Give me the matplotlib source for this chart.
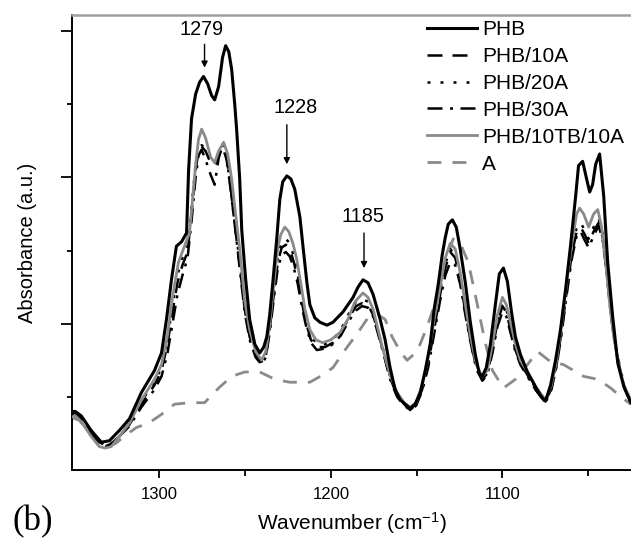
import matplotlib
matplotlib.use("Agg")
import matplotlib.pyplot as plt

plt.rcParams['font.family'] = ['Liberation Sans', 'DejaVu Sans']
plt.rcParams['mathtext.fontset'] = 'custom'
plt.rcParams['mathtext.rm'] = 'Liberation Sans'
plt.rcParams['mathtext.it'] = 'Liberation Sans:italic'

# ---------------- data (wavenumber cm-1, absorbance a.u.) ----------------
phb_x = [1351.5, 1349.1, 1345.6, 1339.8, 1333.9, 1329.2, 1323.4, 1317.5, 1310.5, 1302.9,
         1298.8, 1295.9, 1293.0, 1290.1, 1287.1, 1284.2, 1283.0, 1281.3, 1278.9, 1276.6,
         1274.3, 1271.9, 1269.6, 1267.8, 1265.5, 1263.2, 1261.4, 1259.6, 1257.9, 1256.1,
         1255.0, 1253.2, 1252.0, 1249.7, 1247.4, 1244.4, 1241.5, 1239.2, 1237.4, 1235.7,
         1233.9, 1231.6, 1229.8, 1228.1, 1225.7, 1223.4, 1221.1, 1218.1, 1216.4, 1214.0,
         1212.3, 1209.4, 1206.4, 1202.3, 1198.8, 1193.0, 1187.1, 1184.2, 1181.3, 1178.4,
         1175.4, 1171.3, 1168.4, 1165.5, 1162.6, 1159.6, 1156.7, 1153.8, 1150.9, 1147.9,
         1145.0, 1142.1, 1139.8, 1137.4, 1135.1, 1133.3, 1131.6, 1129.2, 1126.9, 1124.6,
         1121.6, 1118.7, 1115.8, 1113.5, 1111.7, 1109.4, 1107.0, 1104.1, 1101.8, 1099.4,
         1097.1, 1094.7, 1092.4, 1089.5, 1085.4, 1080.7, 1077.8, 1074.9, 1071.9, 1069.0,
         1066.1, 1063.2, 1060.2, 1057.3, 1055.6, 1053.2, 1050.9, 1049.1, 1047.4, 1045.6,
         1043.3, 1040.9, 1038.6, 1035.7, 1032.7, 1029.2, 1025.1]
phb_y = [0.40, 0.40, 0.37, 0.27, 0.19, 0.20, 0.27, 0.35, 0.53, 0.68,
         0.80, 1.03, 1.30, 1.53, 1.56, 1.62, 2.05, 2.40, 2.57, 2.65,
         2.69, 2.64, 2.56, 2.53, 2.62, 2.82, 2.90, 2.86, 2.74, 2.50,
         2.33, 1.99, 1.64, 1.30, 1.03, 0.86, 0.80, 0.84, 0.91, 1.06,
         1.28, 1.58, 1.85, 1.97, 2.01, 1.99, 1.92, 1.73, 1.54, 1.28,
         1.13, 1.04, 1.01, 0.99, 1.01, 1.08, 1.18, 1.25, 1.30, 1.28,
         1.20, 1.03, 0.89, 0.70, 0.55, 0.48, 0.45, 0.42, 0.45, 0.53,
         0.68, 0.86, 1.10, 1.27, 1.47, 1.59, 1.68, 1.71, 1.66, 1.51,
         1.28, 1.01, 0.79, 0.66, 0.64, 0.70, 0.86, 1.13, 1.34, 1.38,
         1.29, 1.08, 0.91, 0.79, 0.67, 0.57, 0.51, 0.47, 0.58, 0.75,
         0.96, 1.23, 1.54, 1.87, 2.08, 2.11, 1.99, 1.90, 1.95, 2.09,
         2.16, 1.87, 1.42, 1.05, 0.73, 0.57, 0.46]

# shared wavenumber grid for the three PHB/xA blends
blend_x = [1351.5, 1349.1, 1345.6, 1339.8, 1335.1, 1331.6, 1328.1, 1323.4, 1317.5, 1310.5,
           1302.9, 1298.8, 1295.3, 1292.4, 1289.5, 1286.6, 1283.6, 1281.3, 1278.9, 1277.2,
           1275.4, 1273.1, 1270.2, 1267.8, 1265.5, 1263.2, 1260.8, 1258.5, 1256.1, 1253.2,
           1250.3, 1247.4, 1243.9, 1240.4, 1238.0, 1235.7, 1233.3, 1231.0, 1228.7, 1226.3,
           1224.0, 1221.6, 1219.3, 1217.0, 1214.6, 1211.7, 1208.2, 1203.5, 1198.8, 1194.2,
           1189.5, 1185.4, 1181.9, 1178.4, 1175.4, 1172.5, 1169.0, 1165.5, 1161.4, 1157.3,
           1153.8, 1150.3, 1146.8, 1143.3, 1139.8, 1136.3, 1133.3, 1130.4, 1127.5, 1124.6,
           1121.6, 1118.7, 1115.2, 1111.7, 1108.8, 1105.8, 1102.9, 1100.0, 1097.7, 1095.3,
           1092.4, 1089.5, 1085.4, 1080.7, 1074.9, 1071.4, 1068.4, 1065.5, 1062.6, 1059.6,
           1056.7, 1054.4, 1052.0, 1049.7, 1046.8, 1043.9, 1041.5, 1039.2, 1036.8, 1034.5,
           1031.6, 1028.7, 1025.1]
phb10a_y = [0.38, 0.39, 0.35, 0.25, 0.18, 0.16, 0.18, 0.23, 0.31, 0.45,
            0.58, 0.68, 0.86, 1.08, 1.28, 1.40, 1.49, 1.75, 2.05, 2.18,
            2.21, 2.18, 2.10, 2.08, 2.14, 2.21, 2.12, 1.92, 1.68, 1.40,
            1.10, 0.91, 0.79, 0.73, 0.78, 0.96, 1.20, 1.42, 1.52, 1.54,
            1.51, 1.42, 1.30, 1.15, 1.01, 0.89, 0.84, 0.84, 0.87, 0.94,
            1.04, 1.12, 1.14, 1.13, 1.06, 0.94, 0.79, 0.63, 0.51, 0.45,
            0.41, 0.45, 0.55, 0.72, 0.96, 1.20, 1.38, 1.49, 1.45, 1.30,
            1.08, 0.89, 0.70, 0.62, 0.66, 0.82, 1.01, 1.12, 1.08, 0.96,
            0.82, 0.73, 0.65, 0.55, 0.46, 0.56, 0.72, 0.95, 1.21, 1.47,
            1.63, 1.66, 1.61, 1.55, 1.63, 1.69, 1.59, 1.36, 1.08, 0.88,
            0.70, 0.56, 0.46]
phb20a_y = [0.39, 0.40, 0.36, 0.26, 0.18, 0.16, 0.17, 0.23, 0.32, 0.47,
            0.60, 0.70, 0.90, 1.12, 1.33, 1.45, 1.53, 1.80, 2.08, 2.20,
            2.22, 2.20, 2.13, 2.11, 2.16, 2.22, 2.13, 1.93, 1.70, 1.42,
            1.12, 0.93, 0.80, 0.74, 0.80, 0.99, 1.24, 1.46, 1.56, 1.58,
            1.55, 1.46, 1.33, 1.18, 1.04, 0.92, 0.86, 0.86, 0.89, 0.96,
            1.07, 1.15, 1.17, 1.15, 1.08, 0.95, 0.80, 0.64, 0.52, 0.45,
            0.42, 0.46, 0.57, 0.74, 0.99, 1.23, 1.41, 1.51, 1.47, 1.32,
            1.10, 0.90, 0.71, 0.63, 0.67, 0.84, 1.03, 1.14, 1.10, 0.98,
            0.83, 0.74, 0.66, 0.56, 0.47, 0.57, 0.73, 0.97, 1.24, 1.50,
            1.66, 1.69, 1.64, 1.58, 1.66, 1.72, 1.62, 1.38, 1.10, 0.89,
            0.71, 0.57, 0.46]
phb30a_y = [0.39, 0.40, 0.36, 0.26, 0.19, 0.17, 0.18, 0.23, 0.30, 0.43,
            0.55, 0.64, 0.80, 1.00, 1.20, 1.33, 1.45, 1.70, 2.00, 2.15,
            2.19, 2.12, 2.02, 1.95, 2.13, 2.23, 2.14, 1.93, 1.68, 1.38,
            1.08, 0.89, 0.77, 0.72, 0.77, 0.94, 1.17, 1.38, 1.47, 1.49,
            1.46, 1.38, 1.27, 1.12, 0.99, 0.87, 0.82, 0.83, 0.86, 0.92,
            1.02, 1.09, 1.12, 1.11, 1.05, 0.93, 0.78, 0.62, 0.50, 0.44,
            0.41, 0.44, 0.54, 0.70, 0.93, 1.16, 1.33, 1.42, 1.40, 1.27,
            1.06, 0.88, 0.69, 0.61, 0.65, 0.80, 0.98, 1.08, 1.05, 0.94,
            0.81, 0.72, 0.64, 0.55, 0.46, 0.55, 0.71, 0.93, 1.19, 1.44,
            1.60, 1.63, 1.57, 1.52, 1.60, 1.67, 1.57, 1.35, 1.07, 0.87,
            0.69, 0.56, 0.46]

tb_x = [1351.5, 1349.1, 1345.6, 1339.8, 1335.1, 1331.6, 1328.1, 1323.4, 1317.5, 1310.5,
        1302.9, 1298.8, 1295.3, 1292.4, 1288.9, 1285.4, 1282.5, 1280.7, 1278.9, 1277.2,
        1275.4, 1273.1, 1270.2, 1267.8, 1265.5, 1262.6, 1260.2, 1257.9, 1255.6, 1253.2,
        1250.3, 1247.4, 1243.9, 1240.4, 1238.0, 1235.7, 1233.3, 1231.0, 1229.2, 1226.9,
        1224.6, 1222.2, 1219.9, 1217.5, 1215.2, 1212.3, 1208.8, 1204.7, 1200.0, 1194.7,
        1190.1, 1186.0, 1181.3, 1178.4, 1175.4, 1172.5, 1169.6, 1165.5, 1161.4, 1157.3,
        1153.8, 1150.3, 1146.8, 1143.3, 1139.8, 1136.3, 1133.3, 1130.4, 1127.5, 1124.6,
        1121.6, 1118.7, 1115.2, 1111.7, 1108.8, 1105.8, 1102.9, 1100.0, 1097.7, 1095.3,
        1092.4, 1089.5, 1085.4, 1080.7, 1074.9, 1071.4, 1068.4, 1065.5, 1062.6, 1059.6,
        1056.7, 1055.0, 1052.6, 1049.7, 1046.8, 1044.4, 1042.1, 1039.8, 1037.4, 1035.1,
        1032.2, 1029.2, 1025.1]
tb_y = [0.36, 0.37, 0.33, 0.23, 0.16, 0.15, 0.16, 0.23, 0.32, 0.48,
        0.62, 0.72, 0.92, 1.18, 1.42, 1.53, 1.62, 1.85, 2.09, 2.26,
        2.33, 2.27, 2.14, 2.10, 2.18, 2.24, 2.16, 1.99, 1.75, 1.51,
        1.16, 0.96, 0.81, 0.75, 0.81, 0.99, 1.27, 1.52, 1.61, 1.66,
        1.63, 1.55, 1.44, 1.27, 1.10, 0.96, 0.89, 0.87, 0.89, 0.94,
        1.03, 1.15, 1.21, 1.18, 1.10, 0.96, 0.82, 0.65, 0.53, 0.46,
        0.43, 0.46, 0.58, 0.77, 1.03, 1.25, 1.45, 1.55, 1.51, 1.35,
        1.13, 0.92, 0.72, 0.64, 0.68, 0.86, 1.06, 1.18, 1.13, 1.01,
        0.86, 0.75, 0.67, 0.57, 0.48, 0.58, 0.75, 0.99, 1.27, 1.54,
        1.75, 1.79, 1.75, 1.66, 1.75, 1.78, 1.66, 1.42, 1.13, 0.91,
        0.72, 0.58, 0.48]

a_x = [1351.5, 1346.8, 1340.9, 1335.1, 1330.4, 1325.7, 1320.5, 1313.5, 1306.4, 1298.8,
       1291.2, 1282.5, 1273.7, 1265.5, 1257.9, 1250.3, 1241.5, 1232.7, 1224.0, 1212.3,
       1204.7, 1198.8, 1191.8, 1184.2, 1178.4, 1172.5, 1168.4, 1164.3, 1159.6, 1155.6,
       1149.7, 1143.9, 1138.0, 1132.2, 1128.7, 1124.6, 1119.9, 1114.6, 1110.0, 1105.8,
       1099.4, 1092.4, 1085.4, 1079.5, 1071.9, 1064.3, 1052.6, 1044.4, 1036.8, 1031.0,
       1025.1]
a_y = [0.36, 0.34, 0.26, 0.18, 0.16, 0.18, 0.23, 0.29, 0.32, 0.38,
       0.45, 0.46, 0.46, 0.56, 0.64, 0.67, 0.67, 0.62, 0.60, 0.60,
       0.65, 0.70, 0.82, 0.94, 1.04, 1.06, 1.03, 0.91, 0.81, 0.75,
       0.81, 0.98, 1.18, 1.46, 1.58, 1.55, 1.42, 1.13, 0.87, 0.68,
       0.56, 0.62, 0.72, 0.81, 0.74, 0.72, 0.64, 0.62, 0.56, 0.50,
       0.45]

series_labels = ["PHB", "PHB/10A", "PHB/20A", "PHB/30A", "PHB/10TB/10A", "A"]

peak_labels = ["1279", "1228", "1185"]
peak_arrow_x = [1273.7, 1225.7, 1180.7]
peak_arrow_tail = [2.91, 2.36, 1.62]
peak_arrow_head = [2.75, 2.09, 1.38]
peak_text_x = [1275.4, 1220.5, 1181.3]
peak_text_y = [3.01, 2.48, 1.73]

x_major = [1300, 1200, 1100]
x_minor = [1250, 1150, 1050]
y_major = [1, 2, 3]
y_minor = [0.5, 1.5, 2.5]

# ---------------- figure ----------------
fig = plt.figure(figsize=(6.31, 5.41), dpi=100)
ax = fig.add_axes([72 / 631, 71 / 541, 559 / 631, 455 / 541])

grey = "#8a8a8a"
ax.plot(a_x, a_y, color=grey, lw=2.0, dashes=(5, 4), label=series_labels[5], zorder=1)
ax.plot(blend_x, phb30a_y, color="black", lw=1.8, dashes=(6, 3, 1.2, 3), label=series_labels[3], zorder=2)
ax.plot(blend_x, phb20a_y, color="black", lw=1.8, dashes=(1.2, 4), label=series_labels[2], zorder=2)
ax.plot(blend_x, phb10a_y, color="black", lw=1.8, dashes=(6, 4), label=series_labels[1], zorder=2)
ax.plot(tb_x, tb_y, color=grey, lw=2.0, label=series_labels[4], zorder=3)
ax.plot(phb_x, phb_y, color="black", lw=2.2, label=series_labels[0], zorder=4)

ax.set_xlim(1351, 1025)
ax.set_ylim(0, 3.11)

ax.set_xticks(x_major)
ax.set_xticklabels([str(v) for v in x_major])
ax.set_xticks(x_minor, minor=True)
ax.set_yticks(y_major)
ax.set_yticklabels([])
ax.set_yticks(y_minor, minor=True)
ax.tick_params(axis='x', which='major', direction='out', length=6, width=1.3, labelsize=12, pad=6)
ax.tick_params(axis='x', which='minor', direction='out', length=4.5, width=1.3)
ax.tick_params(axis='y', which='major', direction='out', length=8, width=1.3)
ax.tick_params(axis='y', which='minor', direction='out', length=3.5, width=1.3)

for s in ['left', 'bottom']:
    ax.spines[s].set_linewidth(1.4)
    ax.spines[s].set_color('black')
ax.spines['top'].set_color('#a0a0a0')
ax.spines['top'].set_linewidth(1.8)
ax.spines['right'].set_visible(False)

ax.set_xlabel(r'Wavenumber (cm$^{\mathregular{-1}}$)', fontsize=15, labelpad=6)
ax.set_ylabel('Absorbance (a.u.)', fontsize=14.5, labelpad=14)

for lab, ax_x, t0, t1, tx, ty in zip(peak_labels, peak_arrow_x, peak_arrow_tail,
                                     peak_arrow_head, peak_text_x, peak_text_y):
    ax.annotate('', xy=(ax_x, t1), xytext=(ax_x, t0),
                arrowprops=dict(arrowstyle='-|>', color='black', lw=1.0,
                                mutation_scale=9, shrinkA=0, shrinkB=0))
    ax.text(tx, ty, lab, fontsize=14.3, ha='center', va='center')

handles, labels = ax.get_legend_handles_labels()
order = [labels.index(l) for l in series_labels]
leg = fig.legend([handles[i] for i in order], [labels[i] for i in order],
                 loc='upper left', bbox_to_anchor=(427 / 631, 1 - 20 / 541),
                 frameon=False, fontsize=15, handlelength=2.4, handletextpad=0.25,
                 labelspacing=0.38, borderpad=0, borderaxespad=0)

fig.text(12 / 631, 1 - 522 / 541, '(b)', family=['Liberation Serif'], fontsize=25,
         ha='left', va='center')

fig.savefig('out.png', dpi=100)
